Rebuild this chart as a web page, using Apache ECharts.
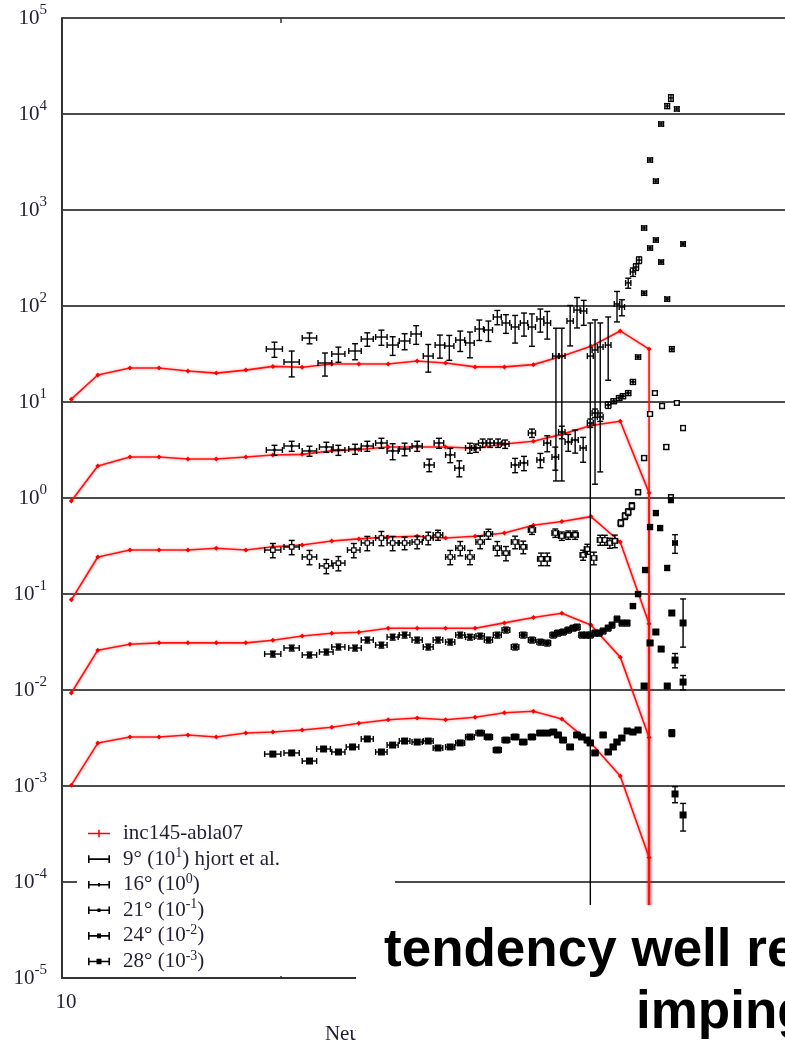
<!DOCTYPE html>
<html><head><meta charset="utf-8">
<script src="https://cdn.jsdelivr.net/npm/echarts@6/dist/echarts.min.js"></script>
<style>html,body{margin:0;padding:0;background:#fff}#c{width:785px;height:1045px}</style>
</head><body><div id="c"></div>
<script>
// ---------- data (energy in MeV, cross sections as plotted, with scale factors) ----------
const xTickLabels = ['10'];
const xMinorTicks = [20];
const yExponents = [-5,-4,-3,-2,-1,0,1,2,3,4,5];

const modelName = 'inc145-abla07';
const modelE = [10.3,11.2,12.4,13.6,14.9,16.3,17.9,19.5,21.4,23.5,25.6,28.1,30.8,33.7,37.0,40.6,44.5,48.7,53.4,58.6,64.2];
const model9  = [10.7,19.1,22.6,22.6,21.0,20.0,21.5,23.5,23.0,24.9,24.9,24.9,26.7,25.5,23.2,23.2,24.5,30,38,55,35.6];
const model16 = [0.93,2.15,2.67,2.67,2.55,2.55,2.67,2.8,2.85,3.1,3.2,3.4,3.4,3.4,3.3,3.65,3.9,4.6,5.7,6.3,1.13];
const model21 = [0.087,0.243,0.287,0.287,0.287,0.30,0.287,0.31,0.324,0.357,0.375,0.393,0.40,0.383,0.40,0.432,0.52,0.57,0.64,0.348,0.049];
const model24 = [0.0093,0.026,0.030,0.031,0.031,0.031,0.031,0.033,0.0365,0.039,0.040,0.044,0.044,0.044,0.044,0.050,0.057,0.063,0.0475,0.022,0.0032];
const model28 = [0.00102,0.0028,0.00324,0.00324,0.0034,0.00324,0.00356,0.00365,0.00383,0.0041,0.0045,0.0049,0.0051,0.0049,0.0052,0.0058,0.0060,0.0050,0.0028,0.00127,0.00018];
// model falls to zero after the last bin (drawn off the bottom of the log axis)
const modelTailE = 64.2, modelTailValue = 1e-7;

// data points: [E, value, relErrLow, relErrHigh(optional)]; relErrLow >= 1 means lower bound <= 0
const names = ['9° (10^1) hjort et al.','16° (10^0)','21° (10^-1)','24° (10^-2)','28° (10^-3)'];
const data9 = [[19.6,35.6,.18],[20.7,26.1,.30],[21.9,46.4,.13],[23.0,25.5,.27],[24.0,31.6,.18],[25.3,34.0,.19],[26.3,45.3,.16],[27.5,47.5,.18],[28.5,39.2,.22],[29.6,43.2,.19],[30.7,51.1,.22],[31.9,30.1,.32],[33.1,39.2,.27],[34.1,38.3,.29],[35.3,44.2,.24],[36.4,41.2,.30],[37.5,57.6,.24],[38.6,56.2,.24],[39.7,76.8,.17],[40.8,66.5,.22],[42.0,60.4,.32],[43.2,66.5,.27],[44.3,60.4,.37],[45.5,73.2,.27],[46.5,66.5,.32],[47.8,30.1,.95],[48.7,30.1,.95],[50.0,69.8,.45],[51.1,90.8,.35],[52.2,88.7,.29],[53.3,30.1,1,1.21],[54.1,34.8,.96,1.06],[55.0,37.4,.95,.78],[56.4,39.2,.57,.96],[58.0,105,.35],[58.9,97.6,.19],[60.1,174,.12],[61.0,226,.1],[61.6,255,.08],[62.2,301,.08],[63.2,650,.05],[64.4,3320,.05],[65.6,2000,.05],[66.7,7870,.05],[68.0,12100,.06],[68.8,14700,.08],[70.1,11300,.05]];
const data16 = [[19.6,3.16,.12],[20.7,3.48,.12],[21.9,3.09,.12],[23.1,3.40,.12],[24.0,3.16,.12],[25.3,3.24,.12],[26.3,3.48,.12],[27.5,3.74,.12],[28.5,3.09,.19],[29.6,3.24,.15],[30.8,3.48,.12],[32.0,2.21,.15],[33.0,3.74,.12],[34.2,2.81,.17],[35.2,2.05,.19],[36.4,3.32,.12],[37.1,3.32,.1],[37.9,3.74,.1],[38.8,3.74,.1],[39.8,3.74,.1],[40.7,3.65,.1],[42.0,2.21,.17],[43.2,2.32,.17],[44.3,4.75,.1],[45.5,2.49,.17],[46.5,3.74,.19],[47.7,2.67,.27],[48.7,4.87,.15],[49.7,3.83,.2],[50.8,4.02,.27],[52.1,3.32,.29],[53.3,6.04,.1],[54.1,7.68,.1],[55.0,6.98,.1],[56.4,9.31,.08],[57.4,10.2,.06],[58.4,11.0,.06],[59.1,11.5,.06],[60.1,12.4,.06],[61.0,16.2,.06],[62.0,29.4,.05],[63.2,136,.05],[64.4,402,.05],[65.6,487,.05],[66.7,287,.05],[68.0,118,.05],[69.0,35.6,.06],[71.5,443,.05]];
const data21 = [[19.5,.287,.17],[20.7,.309,.17],[21.9,.243,.17],[23.1,.196,.17],[24.0,.210,.17],[25.2,.287,.17],[26.3,.340,.17],[27.5,.383,.17],[28.5,.340,.17],[29.6,.340,.15],[30.8,.348,.15],[31.9,.383,.15],[32.9,.412,.12],[34.2,.243,.17],[35.3,.301,.17],[36.4,.243,.17],[37.6,.348,.15],[38.6,.422,.12],[39.7,.301,.17],[40.8,.267,.17],[42.0,.348,.15],[43.1,.309,.15],[44.3,.464,.1],[45.6,.232,.15],[46.5,.232,.15],[47.7,.432,.1],[48.7,.402,.1],[49.7,.412,.1],[50.8,.412,.1],[52.1,.255,.12],[52.8,.294,.12],[53.9,.237,.15],[55.0,.365,.12],[55.8,.365,.12],[56.7,.340,.12],[57.6,.357,.15],[58.7,.549,.08],[59.5,.649,.08],[60.1,.715,.08],[60.8,.826,.08],[62.0,1.15,.06],[63.2,2.61,.06],[64.4,7.50,.05],[65.4,12.4,.05],[66.9,9.09,.06],[67.8,3.40,.06],[68.8,1.02,.06],[70.1,9.77,.05],[71.5,5.36,.06]];
const data24 = [[19.5,.0237,.07],[20.7,.0274,.07],[21.9,.0232,.07],[23.1,.0249,.07],[24.0,.0281,.07],[25.3,.0274,.07],[26.3,.0332,.07],[27.5,.0294,.07],[28.5,.0356,.07],[29.6,.0374,.07],[30.8,.0332,.07],[31.9,.0281,.07],[32.9,.0332,.07],[34.2,.0316,.07],[35.3,.0374,.07],[36.4,.0356,.07],[37.6,.0365,.07],[38.6,.0332,.07],[39.7,.0374,.07],[40.8,.0422,.07],[42.0,.0281,.07],[43.1,.0374,.07],[44.3,.0332,.07],[45.5,.0316,.07],[46.5,.0309,.07],[47.4,.0374,.07],[48.1,.0392,.07],[48.9,.0402,.07],[49.7,.0422,.07],[50.5,.0442,.07],[51.1,.0453,.07],[51.9,.0374,.07],[52.6,.0374,.07],[53.3,.0374,.07],[54.1,.0392,.07],[54.8,.0392,.07],[55.5,.0412,.07],[56.4,.0442,.07],[57.1,.0475,.07],[58.0,.0549,.07],[58.9,.0499,.07],[59.9,.0499,.07],[61.0,.075,.06],[62.0,.100,.06],[63.4,.178,.06],[64.4,.499,.06],[65.6,.698,.06],[66.5,.487,.06],[68.0,.187,.06],[68.8,.953,.06],[69.7,.340,.22]];
const data28 = [[19.5,.00215,.05],[20.7,.00221,.05],[21.9,.00182,.05],[22.9,.00243,.05],[24.0,.00226,.05],[25.1,.00255,.05],[26.3,.00309,.05],[27.5,.00226,.05],[28.5,.00267,.05],[29.6,.00294,.05],[30.8,.00287,.05],[31.9,.00294,.05],[32.9,.00249,.05],[34.2,.00255,.05],[35.3,.00281,.05],[36.4,.00324,.05],[37.6,.00356,.05],[38.6,.00324,.05],[39.7,.00237,.05],[40.8,.00301,.05],[42.0,.00324,.05],[43.1,.00287,.05],[44.3,.00324,.05],[45.5,.00356,.05],[46.5,.00356,.05],[47.4,.00365,.05],[48.1,.0034,.05],[48.9,.00301,.05],[50.0,.00255,.05],[51.1,.0034,.05],[51.9,.00324,.05],[52.8,.00301,.05],[53.3,.00281,.05],[54.1,.00221,.05],[55.5,.0034,.05],[56.4,.00226,.05],[57.3,.00255,.05],[58.0,.00287,.05],[58.9,.00316,.05],[59.9,.00374,.05],[61.0,.00365,.05],[62.0,.00383,.05],[63.2,.0110,.05],[64.4,.0309,.05],[65.6,.0402,.05],[66.7,.0267,.05],[68.0,.0110,.05],[69.0,.0634,.05],[69.7,.0205,.17],[71.5,.0499,.44,.78],[71.5,.0121,.17],[69.0,.00356,.08],[69.7,.000826,.19],[71.5,.000499,.32]];
const binHalfMeV = 0.5; // half width of the 1 MeV energy bins

const overlayLine1 = 'tendency well reproduced';
const overlayLine2 = 'impinging';
const xTitle = 'Neutron energy (MeV)';

// ---------- chart ----------
const SERIF = "'Liberation Serif','Times New Roman',serif";
const SANS = "'Liberation Sans',Arial,sans-serif";
const TXT = '#231c33';
const yTickValues = yExponents.map(e => Math.pow(10, e));

function norm(arr){ return arr.map(d => [d[0], d[1], d[2], d.length > 3 ? d[3] : d[2]]); }

function errRender(mk){
  return function(params, api){
    const E = api.value(0), v = api.value(1), lo = api.value(2), hi = api.value(3);
    const cs = params.coordSys;
    const bot = cs.y + cs.height, top = cs.y;
    const c = api.coord([E, v]);
    const yl = lo < 1 ? Math.min(api.coord([E, v*(1-lo)])[1], bot) : bot;
    const yh = Math.max(api.coord([E, v*(1+hi)])[1], top);
    const xl = api.coord([E - binHalfMeV, v])[0];
    const xr = api.coord([E + binHalfMeV, v])[0];
    const st = {stroke:'#000', lineWidth:1.4};
    const ch = [
      {type:'line', shape:{x1:xl,y1:c[1],x2:xr,y2:c[1]}, style:st},
      {type:'line', shape:{x1:xl,y1:c[1]-3,x2:xl,y2:c[1]+3}, style:st},
      {type:'line', shape:{x1:xr,y1:c[1]-3,x2:xr,y2:c[1]+3}, style:st},
      {type:'line', shape:{x1:c[0],y1:yl,x2:c[0],y2:yh}, style:st},
      {type:'line', shape:{x1:c[0]-3,y1:yh,x2:c[0]+3,y2:yh}, style:st}
    ];
    if (lo < 1) ch.push({type:'line', shape:{x1:c[0]-3,y1:yl,x2:c[0]+3,y2:yl}, style:st});
    if (mk.size) ch.push({type:'rect', shape:{x:c[0]-mk.size/2,y:c[1]-mk.size/2,width:mk.size,height:mk.size},
      style: mk.hollow ? {fill:'#fff', stroke:'#000', lineWidth:1.2} : {fill:'#000'}});
    return {type:'group', children:ch};
  };
}

const models = [model9, model16, model21, model24, model28];
const datas = [data9, data16, data21, data24, data28];
const markers = [{size:0},{size:2.5},{size:4.5,hollow:true},{size:5},{size:7}];

const series = [];
models.forEach(m => {
  series.push({
    type:'line', name:modelName, z:2,
    data: modelE.map((e,i)=>[e, m[i]]).concat([{value:[modelTailE, modelTailValue], symbol:'none'}]),
    symbol:'diamond', symbolSize:5, clip:true,
    itemStyle:{color:'#ff0000'},
    lineStyle:{color:'#ff1010', width:1.6, shadowColor:'rgba(255,0,0,0.45)', shadowBlur:3},
    emphasis:{disabled:true}
  });
});
datas.forEach((d,i) => {
  series.push({
    type:'custom', name:names[i], z:3,
    renderItem: errRender(markers[i]),
    dimensions:['E','v','lo','hi'], encode:{x:0, y:1},
    data: norm(d), itemStyle:{color:'#000'}
  });
});

const barIcon = 'path://M0,4L22,4L22,5.6L0,5.6Z M0,1L1.6,1L1.6,8.6L0,8.6Z M20.4,1L22,1L22,8.6L20.4,8.6Z';
const legendIcons = [
  'path://M0,4L22,4L22,5.6L0,5.6Z M10.2,1L11.8,1L11.8,8.6L10.2,8.6Z',
  barIcon,
  barIcon + ' M10,3L12,3L12,6.6L10,6.6Z',
  barIcon + ' M9.5,3L12.5,3L12.5,6.6L9.5,6.6Z',
  barIcon + ' M9,2.5L13,2.5L13,7.1L9,7.1Z',
  barIcon + ' M8.5,2L13.5,2L13.5,7.6L8.5,7.6Z'
];
const legendNames = [modelName].concat(names);

function supFmt(name){
  return '{t|' + name.replace(/\^(-?\d+)/, '}{s|$1}{t|') + '}';
}

const chart = echarts.init(document.getElementById('c'), null, {renderer:'canvas'});
chart.setOption({
  animation:false,
  backgroundColor:'#fff',
  grid:{left:62, top:18, width:727, height:960, containLabel:false, outerBoundsMode:'none'},
  xAxis:[{
    type:'log', logBase:10, min:10, max:100,
    axisLine:{show:true, onZero:false, lineStyle:{color:'#333', width:2}},
    axisTick:{show:true, inside:true, length:6, customValues:xMinorTicks, lineStyle:{color:'#333', width:1.5}},
    splitLine:{show:false},
    axisLabel:{margin:14, fontFamily:SERIF, fontSize:21, color:TXT, padding:[0,0,0,8],
      formatter: v => xTickLabels.includes(String(Math.round(v))) ? String(Math.round(v)) : ''},
    name:xTitle, nameLocation:'middle', nameGap:46,
    nameTextStyle:{fontFamily:SERIF, fontSize:21, color:TXT, padding:[0,8,0,0]}
  },{
    type:'log', logBase:10, min:10, max:100, position:'top',
    axisLine:{show:false},
    axisTick:{show:true, inside:true, length:5, customValues:xMinorTicks, lineStyle:{color:'#333', width:1.5}},
    axisLabel:{show:false}, splitLine:{show:false}
  }],
  yAxis:{
    type:'log', logBase:10, min:1e-5, max:1e5, splitNumber:10,
    axisLine:{show:true, lineStyle:{color:'#333', width:2}},
    axisTick:{show:false, customValues:yTickValues},
    splitLine:{show:true, lineStyle:{color:'#111', width:1.6}},
    axisLabel:{margin:15, customValues:yTickValues,
      formatter: v => { const e = Math.round(Math.log10(v)); return yExponents.includes(e) ? '{b|10}{s|' + e + '}' : ''; },
      rich:{
        b:{fontFamily:SERIF, fontSize:21, color:TXT, lineHeight:30},
        s:{fontFamily:SERIF, fontSize:15, color:TXT, lineHeight:15, verticalAlign:'top'}
      }
    }
  },
  legend:{
    orient:'vertical', left:88, top:823, padding:0, itemGap:2.6,
    itemWidth:22, itemHeight:9, z:10,
    data: legendNames.map((n,i)=>({name:n, icon:legendIcons[i], itemStyle:{color: i===0 ? '#ff0000' : '#000'}})),
    formatter: supFmt,
    selectedMode:false,
    textStyle:{padding:[0,0,0,8], rich:{
      t:{fontFamily:SERIF, fontSize:21, color:TXT, lineHeight:25},
      s:{fontFamily:SERIF, fontSize:14, color:TXT, lineHeight:14, verticalAlign:'top'}
    }}
  },
  graphic:[
    {type:'rect', z:5, shape:{x:77, y:812, width:318, height:164}, style:{fill:'#fff'}},
    {type:'rect', z:50, shape:{x:356, y:905, width:429, height:140}, style:{fill:'#fff'}},
    {type:'text', z:51, style:{x:384, y:951, text:overlayLine1, font:'bold 53px ' + SANS, fill:'#000', verticalAlign:'middle'}},
    {type:'text', z:51, style:{x:636, y:1013, text:overlayLine2, font:'bold 53px ' + SANS, fill:'#000', verticalAlign:'middle'}}
  ],
  series: series
});
</script>
</body></html>
